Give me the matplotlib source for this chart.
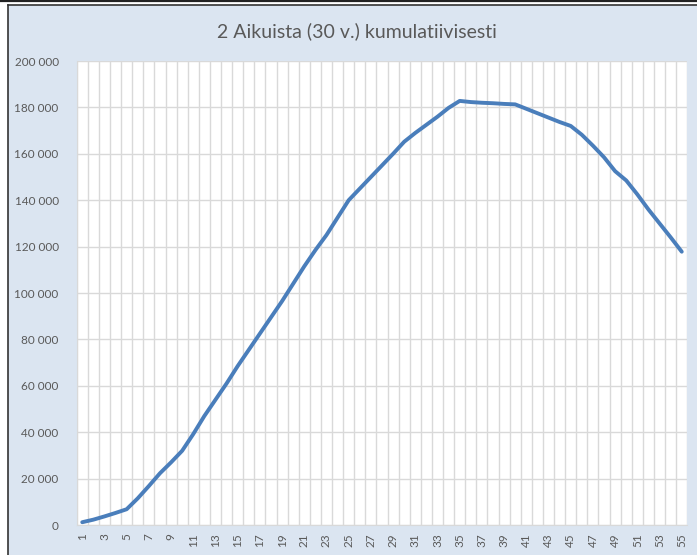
import numpy as np
import matplotlib.pyplot as plt
from matplotlib.lines import Line2D
from matplotlib.patches import Rectangle
from matplotlib.ticker import FuncFormatter

plt.rcParams['font.family'] = ['Lato', 'DejaVu Sans']

# data
periods = list(range(1, 56))
values = [1200, 2300, 3700, 5200, 6800, 11500, 16800, 22300, 27000, 32000,
          39200, 47000, 54000, 61000, 68500, 75500, 82500, 89500, 96500, 104000,
          111500, 118500, 125000, 132500, 140000, 145000, 150000, 155000, 160000, 165200,
          169000, 172500, 176000, 179800, 182800, 182300, 182000, 181800, 181500, 181300,
          179400, 177500, 175600, 173700, 172000, 168200, 163500, 158500, 152500, 148500,
          142500, 136000, 130000, 124000, 117800]
title = '2 Aikuista (30 v.) kumulatiivisesti'

W, H = 697, 555
fig = plt.figure(figsize=(W / 100, H / 100), dpi=100)
fig.patch.set_facecolor('white')

# chart area background and frame
bg = Rectangle((8 / W, 0), 1 - 8 / W, 1 - 5 / H, transform=fig.transFigure,
               facecolor='#dbe5f1', edgecolor='none', zorder=-10)
fig.add_artist(bg)
fig.add_artist(Line2D([0, 1], [1 - 1 / H, 1 - 1 / H], transform=fig.transFigure,
                      color='#222222', lw=1.6, zorder=-5))
fig.add_artist(Line2D([8 / W, 1], [1 - 4.5 / H, 1 - 4.5 / H], transform=fig.transFigure,
                      color='#333333', lw=1.2, zorder=-5))
fig.add_artist(Line2D([8 / W, 8 / W], [0, 1 - 4.5 / H], transform=fig.transFigure,
                      color='#333333', lw=1.2, zorder=-5))

ax = fig.add_axes([76.7 / W, 30 / H, 610.6 / W, 464 / H])
ax.set_facecolor('white')
ax.plot(periods, values, color='#4a7ebb', lw=2.8, solid_capstyle='round', zorder=3)

ax.set_xlim(0.5, 55.5)
ax.set_ylim(0, 200000)
ax.set_yticks(np.arange(0, 200001, 20000))
ax.yaxis.set_major_formatter(FuncFormatter(lambda v, p: f'{int(v):,}'.replace(',', ' ')))
ax.set_xticks(periods[::2])
ax.set_xticklabels([str(p) for p in periods[::2]], rotation=90)
ax.set_xticks(np.arange(0.5, 56, 1), minor=True)

ax.grid(True, axis='y', color='#d9d9d9', lw=1)
ax.grid(True, which='minor', axis='x', color='#d9d9d9', lw=1)
ax.set_axisbelow(True)
for s in ['top', 'right']:
    ax.spines[s].set_visible(False)
for s in ['left', 'bottom']:
    ax.spines[s].set_color('#d9d9d9')
ax.tick_params(which='both', length=0, colors='#595959', labelsize=8.5)
ax.tick_params(axis='y', pad=13)
ax.tick_params(axis='x', pad=6)

fig.text(357 / W, 1 - 31 / H, title, ha='center', va='center', fontsize=14, color='#595959')

plt.savefig('out.png', dpi=100)
